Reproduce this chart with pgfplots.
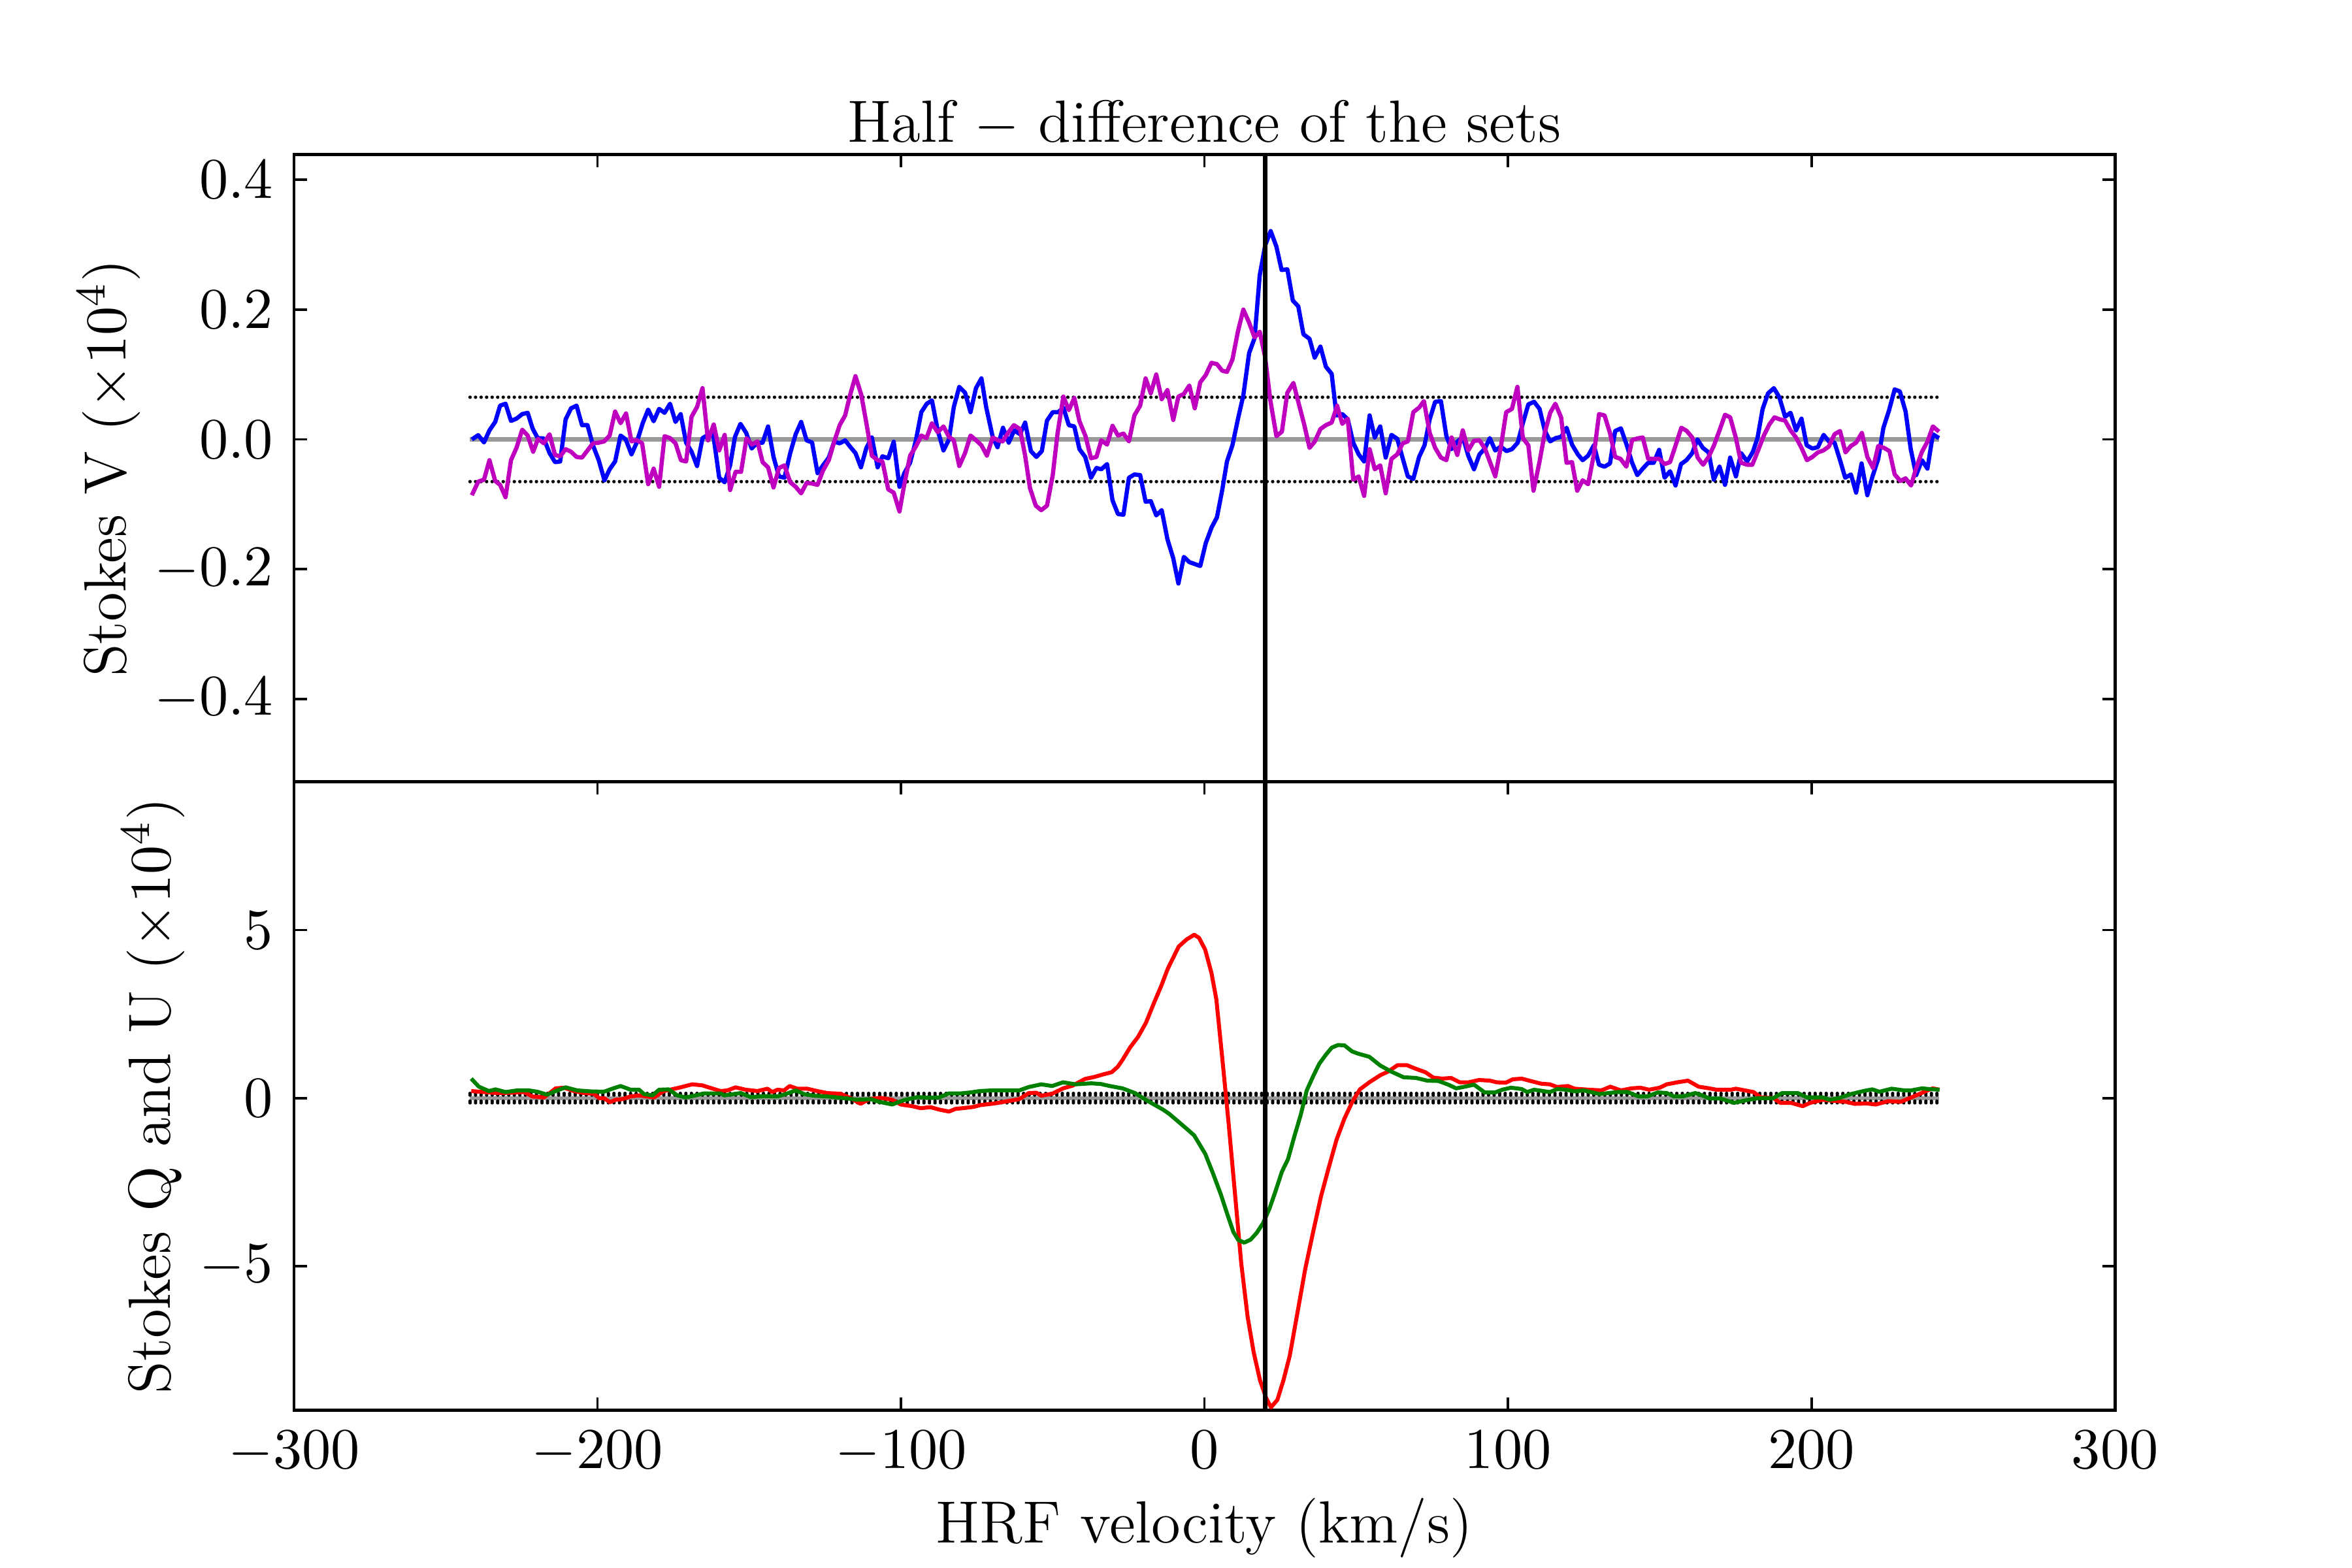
\documentclass[border=0pt]{standalone}
\usepackage{pgfplots}
\pgfplotsset{compat=1.18}

\definecolor{mplblue}{rgb}{0,0,1}
\definecolor{mplmag}{rgb}{0.75,0,0.75}
\definecolor{mplred}{rgb}{1,0,0}
\definecolor{mplgreen}{rgb}{0,0.5,0}
\definecolor{zerogray}{rgb}{0.6,0.6,0.6}

\pgfplotsset{
  panel/.style={
    scale only axis,
    width=12.14cm,
    xmin=-300, xmax=300,
    xtick={-300,-200,-100,0,100,200,300},
    tick align=inside,
    tick pos=both,
    major tick length=0.085cm,
    every tick/.style={black, line width=0.45pt},
    axis line style={line width=0.6pt},
    every axis plot/.append style={line join=round, no marks, sharp plot},
    ylabel style={yshift=-5pt},
    clip=true,
  },
  noise/.style={black, line width=0.65pt, line cap=round, dash pattern=on 0pt off 1.05pt},
}

\begin{document}
\fontsize{11.3}{13.5}\selectfont
\begin{tikzpicture}
\useasboundingbox (-1.96cm,-1.05cm) rectangle (13.72cm,9.40cm);

% Lower panel: Stokes Q and U
\begin{axis}[panel,
  at={(0cm,0cm)}, anchor=south west,
  height=4.19cm,
  ymin=-9.28, ymax=9.42,
  ytick={-5,0,5},
  xlabel={HRF velocity (km/s)},
  xlabel style={yshift=3pt},
  ylabel={Stokes Q and U $(\times 10^4)$},
]
\addplot[zerogray, line width=0.8pt] coordinates {(-242,0) (242,0)};
\addplot[noise] coordinates {(-242,0.09) (242,0.09)};
\addplot[noise] coordinates {(-242,0.14) (242,0.14)};
\addplot[noise] coordinates {(-242,-0.09) (242,-0.09)};
\addplot[noise] coordinates {(-242,-0.14) (242,-0.14)};
% Q
\addplot[mplred, line width=0.75pt] coordinates {
(-241.6,0.21) (-237.4,0.18) (-233.0,0.15) (-228.6,0.16) (-224.2,0.18) (-221.5,0.05)
(-217.6,0.02) (-213.8,0.29) (-211.0,0.31) (-207.8,0.21) (-204.5,0.15) (-201.2,0.13)
(-199.5,0.0) (-197.9,0.0) (-195.9,-0.12) (-194.0,-0.05) (-191.8,-0.03) (-189.1,0.05)
(-186.3,0.08) (-181.4,0.02) (-178.1,0.21) (-173.1,0.31) (-168.8,0.41) (-165.5,0.38)
(-162.7,0.30) (-159.4,0.21) (-157.2,0.23) (-154.5,0.32) (-151.2,0.25) (-147.3,0.21)
(-144.0,0.28) (-142.4,0.18) (-140.7,0.25) (-138.5,0.23) (-136.7,0.36) (-134.2,0.28)
(-130.9,0.28) (-127.6,0.21) (-124.3,0.15) (-119.9,0.13) (-116.6,0.0) (-113.3,-0.17)
(-110.5,-0.03) (-106.7,0.01) (-102.9,-0.05) (-100.1,-0.19) (-96.3,-0.24) (-93.5,-0.30)
(-90.2,-0.27) (-87.5,-0.34) (-84.2,-0.40) (-82.0,-0.32) (-78.7,-0.29) (-76.0,-0.26)
(-74.0,-0.21) (-69.3,-0.16) (-64.1,-0.08) (-61.0,-0.03) (-57.9,0.15) (-55.4,0.16)
(-53.8,0.07) (-50.2,0.13) (-46.6,0.29) (-43.5,0.37) (-39.4,0.57) (-36.3,0.63)
(-33.2,0.71) (-30.6,0.77) (-28.6,0.93) (-27.0,1.14) (-24.5,1.51) (-21.9,1.82)
(-19.3,2.24) (-16.7,2.82) (-14.2,3.35) (-12.1,3.85) (-8.5,4.51) (-5.9,4.72)
(-3.4,4.86) (-1.8,4.77) (0.25,4.41) (2.3,3.72) (3.9,2.94) (5.9,1.15) (8.0,-0.80)
(10.0,-2.80) (12.1,-4.91) (14.2,-6.50) (16.2,-7.56) (18.3,-8.40) (20.3,-8.92)
(21.9,-9.20) (24.0,-8.98) (26.0,-8.40) (28.1,-7.66) (30.6,-6.40) (33.2,-5.08)
(35.8,-3.98) (38.4,-2.92) (40.9,-2.08) (43.5,-1.24) (46.1,-0.61) (48.6,-0.13)
(51.2,0.26) (54.3,0.47) (57.9,0.68) (60.5,0.79) (63.6,0.98) (66.7,0.98) (69.7,0.87)
(72.8,0.77) (75.4,0.61) (78.3,0.58) (81.2,0.60) (84.1,0.47) (87.0,0.47) (90.5,0.54)
(94.0,0.52) (96.3,0.47) (99.3,0.46) (101.6,0.56) (104.5,0.58) (107.4,0.51)
(110.9,0.43) (113.8,0.41) (116.2,0.33) (119.7,0.36) (122.0,0.28) (126.7,0.25)
(130.8,0.23) (133.7,0.34) (137.2,0.23) (140.7,0.29) (143.6,0.31) (146.5,0.25)
(150.0,0.31) (152.3,0.41) (155.8,0.47) (159.3,0.52) (162.8,0.34) (166.3,0.29)
(168.7,0.25) (173.4,0.25) (175.1,0.28) (178.0,0.23) (180.9,0.18) (183.3,0.02)
(187.4,0.0) (189.7,-0.14) (193.2,-0.14) (197.1,-0.24) (199.6,-0.14) (203.7,-0.05)
(207.2,-0.08) (211.3,-0.11) (214.2,-0.17) (218.3,-0.16) (221.2,-0.19) (225.3,-0.09)
(229.4,-0.11) (232.9,0.02) (237.0,0.18) (239.9,0.29) (242.2,0.25)
};
% U
\addplot[mplgreen, line width=0.75pt] coordinates {
(-241.6,0.58) (-239.1,0.34) (-235.8,0.21) (-233.6,0.26) (-230.3,0.18) (-226.4,0.23)
(-222.6,0.23) (-219.8,0.19) (-216.5,0.10) (-213.8,0.21) (-210.5,0.32) (-206.7,0.23)
(-202.3,0.20) (-197.9,0.19) (-195.1,0.28) (-192.4,0.36) (-189.1,0.25) (-186.3,0.25)
(-184.7,0.12) (-181.9,0.08) (-179.7,0.25) (-176.5,0.26) (-173.7,0.08) (-171.0,0.02)
(-168.2,0.07) (-164.9,0.14) (-159.4,0.14) (-158.3,0.08) (-152.8,0.15) (-149.5,0.03)
(-145.1,0.06) (-140.7,0.05) (-138.0,0.12) (-134.7,0.23) (-131.9,0.12) (-128.7,0.07)
(-124.3,0.05) (-121.0,0.02) (-117.7,-0.01) (-114.4,-0.05) (-110.0,-0.03) (-107.2,-0.11)
(-102.9,-0.19) (-99.0,-0.06) (-94.6,0.03) (-90.2,0.01) (-87.5,0.02) (-84.2,0.14)
(-80.3,0.14) (-77.0,0.17) (-74.0,0.21) (-69.8,0.23) (-61.0,0.23) (-57.9,0.33)
(-53.8,0.41) (-50.2,0.36) (-46.6,0.47) (-42.5,0.41) (-37.3,0.44) (-34.2,0.42)
(-31.2,0.36) (-27.0,0.29) (-22.9,0.15) (-18.8,-0.08) (-13.7,-0.34) (-11.6,-0.47)
(-8.5,-0.71) (-5.4,-0.95) (-3.4,-1.11) (0.25,-1.66) (2.8,-2.24) (5.4,-2.87)
(7.5,-3.45) (9.5,-3.98) (11.1,-4.22) (13.1,-4.30) (15.2,-4.21) (17.2,-4.01)
(19.3,-3.72) (21.4,-3.29) (23.4,-2.77) (25.5,-2.19) (27.5,-1.82) (29.6,-1.14)
(31.7,-0.50) (33.7,0.23) (35.8,0.65) (37.8,1.02) (39.9,1.28) (41.9,1.50) (44.0,1.58)
(46.1,1.57) (48.6,1.39) (50.7,1.32) (54.3,1.23) (57.9,0.97) (61.5,0.79) (65.6,0.62)
(69.7,0.60) (73.4,0.52) (77.1,0.51) (80.6,0.39) (82.9,0.29) (85.8,0.34) (88.8,0.40)
(92.3,0.17) (95.8,0.17) (98.1,0.25) (101.0,0.31) (104.5,0.27) (106.3,0.18)
(108.6,0.25) (113.8,0.18) (116.2,0.27) (119.1,0.25) (122.0,0.20) (124.9,0.23)
(130.2,0.12) (136.0,0.18) (139.5,0.18) (143.0,0.05) (145.9,0.05) (149.4,0.17)
(152.3,0.15) (154.7,0.05) (157.6,0.05) (161.7,0.15) (164.0,0.08) (166.3,-0.01)
(169.8,-0.01) (174.5,-0.14) (179.2,-0.05) (182.7,0.0) (187.4,0.0) (190.3,0.15)
(195.5,0.15) (198.5,0.02) (203.7,0.02) (206.0,-0.05) (209.0,0.0) (213.0,0.12)
(217.1,0.21) (220.0,0.26) (222.4,0.19) (226.4,0.28) (230.5,0.23) (232.9,0.23)
(236.4,0.29) (238.7,0.27) (242.2,0.25)
};
\addplot[black, line width=0.8pt] coordinates {(20,-9.28) (20,9.42)};
\end{axis}

% Upper panel: Stokes V
\begin{axis}[panel,
  at={(0cm,4.19cm)}, anchor=south west,
  height=4.18cm,
  ymin=-0.527, ymax=0.439,
  xtick pos=right,
  ytick={-0.4,-0.2,0,0.2,0.4},
  yticklabel style={/pgf/number format/fixed, /pgf/number format/precision=1, /pgf/number format/fixed zerofill},
  xticklabels={},
  title={Half $-$ difference of the sets},
  title style={yshift=-8.5pt},
  ylabel={Stokes V $(\times 10^4)$},
]
\addplot[zerogray, line width=0.8pt] coordinates {(-242,0) (242,0)};
\addplot[noise] coordinates {(-242,0.065) (242,0.065)};
\addplot[noise] coordinates {(-242,-0.065) (242,-0.065)};
% first set
\addplot[mplblue, line width=0.8pt] coordinates {
(-241.4,0.000) (-239.3,0.0066) (-237.4,-0.0046) (-235.6,0.014) (-233.7,0.027) (-232.1,0.052)
(-230.3,0.055) (-228.5,0.0285) (-226.7,0.032) (-224.8,0.039) (-223.0,0.041) (-221.4,0.017)
(-219.7,0.002) (-217.7,0.0015) (-215.8,-0.021) (-214.0,-0.035) (-212.3,-0.034) (-210.5,0.031)
(-208.7,0.048) (-206.9,0.052) (-205.1,0.022) (-203.3,0.022) (-201.5,-0.009) (-199.6,-0.032)
(-197.7,-0.063) (-196.0,-0.046) (-194.2,-0.034) (-192.4,0.006) (-190.7,0.0) (-188.8,-0.023)
(-187.1,-0.005) (-185.1,0.025) (-183.3,0.046) (-181.5,0.028) (-179.7,0.047) (-177.9,0.041)
(-176.1,0.055) (-174.3,0.027) (-172.6,0.039) (-170.8,-0.005) (-169.0,-0.019) (-167.2,-0.041)
(-165.4,0.002) (-163.6,0.007) (-161.9,0.009) (-159.9,-0.059) (-158.1,-0.066) (-156.3,-0.040)
(-154.7,0.004) (-152.9,0.024) (-151.0,0.010) (-149.2,-0.014) (-147.4,-0.005) (-145.6,-0.005)
(-143.8,0.020) (-142.0,-0.027) (-140.2,-0.057) (-138.4,-0.059) (-136.5,-0.021) (-134.7,0.008)
(-132.9,0.027) (-131.1,-0.0015) (-129.3,-0.0046) (-127.5,-0.052) (-125.7,-0.040) (-123.8,-0.028)
(-122.0,-0.0035) (-120.2,-0.006) (-118.4,-0.0015) (-116.8,-0.011) (-115.0,-0.021) (-113.2,-0.043)
(-111.4,-0.013) (-109.6,0.003) (-107.7,-0.043) (-106.1,-0.026) (-104.2,-0.029) (-102.4,-0.0035)
(-100.5,-0.073) (-98.9,-0.052) (-97.0,-0.036) (-95.1,-0.0015) (-93.3,0.042) (-91.5,0.055)
(-89.8,0.060) (-87.9,0.014) (-86.0,-0.017) (-84.2,0.0) (-82.6,0.050) (-80.8,0.081)
(-78.9,0.072) (-77.1,0.042) (-75.3,0.079) (-73.5,0.094) (-71.9,0.049) (-69.8,0.004)
(-68.2,-0.012) (-66.4,0.018) (-64.5,-0.005) (-62.7,0.014) (-60.8,0.008) (-59.1,0.026)
(-57.2,-0.018) (-55.4,-0.027) (-53.6,-0.018) (-51.9,0.029) (-50.0,0.042) (-48.2,0.042)
(-46.5,0.049) (-44.7,0.022) (-42.9,0.020) (-41.2,-0.015) (-39.3,-0.027) (-37.4,-0.059)
(-35.6,-0.044) (-34.0,-0.046) (-32.1,-0.038) (-30.3,-0.094) (-28.5,-0.115) (-26.7,-0.116)
(-24.9,-0.059) (-23.1,-0.054) (-21.2,-0.055) (-19.4,-0.096) (-17.7,-0.095) (-15.9,-0.117)
(-14.1,-0.109) (-12.2,-0.154) (-10.3,-0.183) (-8.6,-0.222) (-6.8,-0.181) (-5.0,-0.189)
(-3.2,-0.192) (-1.4,-0.195) (0.4,-0.160) (2.3,-0.136) (4.1,-0.120) (5.8,-0.079)
(7.4,-0.034) (9.2,-0.009) (11.0,0.031) (12.8,0.068) (14.7,0.133) (16.5,0.156)
(18.2,0.253) (20.0,0.299) (21.8,0.321) (23.7,0.297) (25.4,0.261) (27.3,0.262)
(29.1,0.214) (30.9,0.205) (32.6,0.162) (34.6,0.155) (36.3,0.126) (38.2,0.143)
(40.0,0.112) (41.9,0.101) (43.5,0.037) (45.4,0.039) (47.2,0.031) (49.0,-0.005)
(50.8,-0.023) (52.6,-0.034) (54.4,0.037) (56.1,0.003) (57.9,0.020) (59.7,-0.028)
(61.6,0.007) (63.5,0.001) (65.3,-0.029) (67.0,-0.057) (68.8,-0.061) (70.7,-0.027)
(72.5,-0.009) (74.2,0.031) (76.0,0.058) (77.9,0.059) (79.7,0.005) (81.4,-0.015)
(83.3,-0.0035) (85.1,0.004) (86.9,-0.025) (88.8,-0.046) (90.6,-0.023) (92.4,-0.014)
(94.0,0.002) (95.8,-0.017) (97.6,-0.011) (99.5,-0.018) (101.3,-0.015) (103.2,-0.005)
(104.9,0.025) (106.7,0.054) (108.6,0.058) (110.4,0.047) (112.1,0.014) (113.9,-0.003)
(115.7,0.002) (117.5,0.004) (119.3,0.018) (121.1,-0.008) (123.0,-0.023) (124.6,-0.032)
(126.4,-0.025) (128.3,-0.009) (130.0,-0.039) (131.8,-0.042) (133.6,-0.037) (135.3,0.013)
(137.2,0.017) (139.0,-0.007) (140.9,-0.036) (142.6,-0.055) (144.4,-0.045) (146.2,-0.036)
(148.0,-0.036) (149.8,-0.016) (151.6,-0.059) (153.4,-0.049) (155.2,-0.071) (157.0,-0.038)
(158.8,-0.032) (160.7,-0.021) (162.4,0.0) (164.2,-0.013) (166.1,-0.020) (167.8,-0.062)
(169.7,-0.042) (171.5,-0.070) (173.2,-0.028) (175.1,-0.057) (176.8,-0.021) (178.8,-0.034)
(180.7,-0.019) (182.2,0.002) (183.9,0.047) (185.7,0.071) (187.6,0.079) (189.4,0.065)
(191.3,0.035) (193.1,0.041) (194.9,0.014) (196.7,0.032) (198.4,-0.009) (200.3,-0.014)
(202.1,-0.012) (204.0,0.007) (205.8,-0.0035) (207.6,-0.005) (209.4,-0.032) (211.1,-0.059)
(213.0,-0.054) (214.7,-0.082) (216.5,-0.037) (218.4,-0.086) (220.1,-0.057) (222.0,-0.030)
(223.7,0.018) (225.5,0.044) (227.4,0.077) (229.1,0.074) (231.0,0.043) (232.7,-0.015)
(234.5,-0.055) (236.4,-0.032) (238.2,-0.045) (240.0,0.008) (242.0,0.002)
};
% second set
\addplot[mplmag, line width=0.8pt] coordinates {
(-241.4,-0.086) (-239.3,-0.065) (-237.4,-0.062) (-235.6,-0.032) (-233.7,-0.064) (-232.1,-0.070)
(-230.3,-0.089) (-228.5,-0.032) (-226.7,-0.013) (-224.8,0.015) (-223.0,0.006) (-221.2,-0.019)
(-219.6,0.001) (-217.7,-0.006) (-215.8,0.008) (-214.0,-0.024) (-212.3,-0.026) (-210.5,-0.015)
(-208.7,-0.019) (-206.9,-0.027) (-205.1,-0.028) (-203.3,-0.017) (-201.5,-0.006) (-199.6,-0.005)
(-197.8,-0.003) (-196.0,0.006) (-194.2,0.043) (-192.4,0.025) (-190.6,0.040) (-188.8,-0.003)
(-187.1,-0.001) (-185.3,-0.006) (-183.3,-0.069) (-181.5,-0.045) (-179.7,-0.073) (-177.9,0.005)
(-176.1,0.002) (-174.3,-0.006) (-172.5,-0.032) (-170.8,-0.034) (-169.0,0.035) (-167.2,0.050)
(-165.4,0.079) (-163.6,-0.0015) (-161.7,0.023) (-159.9,-0.017) (-158.1,0.007) (-156.3,-0.078)
(-154.5,-0.050) (-152.7,-0.050) (-150.9,0.002) (-149.1,-0.008) (-147.3,-0.003) (-145.6,-0.035)
(-143.8,-0.043) (-142.0,-0.074) (-140.2,-0.044) (-138.4,-0.040) (-136.5,-0.066) (-134.7,-0.073)
(-132.9,-0.083) (-131.1,-0.067) (-129.3,-0.068) (-127.5,-0.070) (-125.7,-0.048) (-123.8,-0.032)
(-122.0,-0.0035) (-120.2,0.022) (-118.4,0.037) (-116.8,0.068) (-115.0,0.0975) (-113.1,0.069)
(-111.4,0.025) (-109.6,-0.025) (-107.7,-0.032) (-106.1,-0.034) (-104.2,-0.077) (-102.4,-0.082)
(-100.5,-0.111) (-98.9,-0.069) (-97.0,-0.025) (-95.1,-0.011) (-93.3,0.006) (-91.6,0.002)
(-89.8,0.025) (-87.9,0.011) (-86.0,0.020) (-84.2,0.004) (-82.6,-0.0015) (-80.8,-0.041)
(-78.9,-0.021) (-77.1,0.006) (-75.2,-0.0015) (-73.5,-0.009) (-71.7,-0.025) (-69.8,0.003)
(-68.0,-0.0015) (-66.5,-0.003) (-64.6,0.011) (-62.8,0.022) (-60.8,0.016) (-59.1,-0.025)
(-57.5,-0.075) (-55.6,-0.102) (-53.8,-0.109) (-51.9,-0.102) (-50.0,-0.055) (-48.4,0.010)
(-46.5,0.066) (-44.7,0.045) (-42.9,0.064) (-41.2,0.028) (-39.2,0.005) (-37.4,-0.029)
(-35.6,-0.027) (-34.0,-0.0015) (-32.1,-0.008) (-30.3,0.021) (-28.5,0.006) (-26.7,0.009)
(-24.9,-0.003) (-23.1,0.037) (-21.2,0.052) (-19.4,0.094) (-17.7,0.071) (-15.9,0.100)
(-14.1,0.062) (-12.2,0.076) (-10.3,0.030) (-8.6,0.066) (-6.8,0.070) (-5.0,0.083)
(-3.2,0.048) (-1.4,0.088) (0.4,0.099) (2.3,0.118) (4.1,0.116) (5.8,0.106)
(7.4,0.104) (9.2,0.123) (11.0,0.166) (12.8,0.200) (14.7,0.180) (16.5,0.157)
(18.2,0.166) (20.0,0.126) (21.7,0.060) (23.7,0.005) (25.5,0.012) (27.3,0.072)
(29.3,0.087) (31.0,0.056) (32.8,0.024) (34.6,-0.013) (36.3,-0.0035) (38.2,0.016)
(40.0,0.022) (41.9,0.026) (43.7,0.052) (45.4,0.024) (47.2,0.032) (49.0,-0.062)
(50.8,-0.057) (52.6,-0.087) (54.4,-0.015) (56.1,-0.046) (57.9,-0.040) (59.7,-0.083)
(61.6,-0.030) (63.5,-0.023) (65.3,-0.006) (67.0,-0.003) (68.8,0.042) (70.7,0.049)
(72.3,0.059) (74.2,0.010) (76.0,-0.013) (77.9,-0.028) (79.7,-0.032) (81.4,0.003)
(83.3,-0.024) (85.1,0.014) (86.9,-0.017) (88.8,-0.002) (90.6,-0.0015) (92.4,-0.014)
(94.0,-0.034) (95.8,-0.057) (97.6,-0.013) (99.4,0.042) (101.3,0.047) (103.1,0.081)
(104.9,0.002) (106.7,-0.009) (108.4,-0.079) (110.4,-0.034) (112.1,0.010) (113.9,0.041)
(115.6,0.055) (117.5,0.034) (119.3,-0.036) (121.1,-0.035) (122.8,-0.079) (124.6,-0.063)
(126.4,-0.069) (128.3,-0.023) (130.0,0.039) (131.8,0.037) (133.6,0.010) (135.3,-0.027)
(137.1,-0.030) (139.0,-0.042) (140.9,-0.001) (142.6,0.0015) (144.4,0.003) (146.2,-0.030)
(148.0,-0.030) (149.8,-0.030) (151.6,-0.038) (153.4,-0.035) (155.3,-0.008) (157.1,0.018)
(158.9,0.013) (160.7,0.003) (162.5,-0.028) (164.3,-0.039) (166.1,-0.027) (167.8,-0.010)
(169.7,0.014) (171.5,0.038) (173.2,0.034) (175.1,0.002) (176.8,-0.036) (178.8,-0.039)
(180.5,-0.039) (182.4,-0.017) (184.3,0.006) (186.1,0.023) (187.8,0.034) (189.5,0.031)
(191.3,0.029) (193.1,0.014) (194.9,0.003) (196.7,-0.013) (198.5,-0.032) (200.3,-0.027)
(202.1,-0.020) (203.9,-0.017) (205.7,-0.011) (207.6,0.008) (209.4,0.013) (211.2,-0.020)
(213.0,-0.010) (214.7,-0.005) (216.6,0.010) (218.4,-0.027) (220.3,-0.044) (222.0,-0.010)
(223.9,-0.013) (225.7,-0.018) (227.4,-0.054) (229.3,-0.064) (231.0,-0.060) (232.8,-0.071)
(234.5,-0.044) (236.4,-0.019) (238.2,-0.0035) (240.0,0.020) (242.0,0.012)
};
\addplot[black, line width=0.8pt] coordinates {(20,-0.527) (20,0.439)};
\end{axis}
\end{tikzpicture}
\end{document}
